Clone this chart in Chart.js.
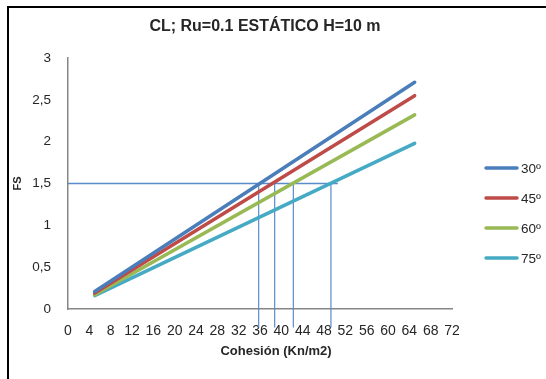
<!DOCTYPE html>
<html>
<head>
<meta charset="utf-8">
<script src="https://cdn.jsdelivr.net/npm/chart.js@4/dist/chart.umd.min.js"></script>
<style>
  html, body { margin: 0; padding: 0; background: #ffffff; }
  #wrap { position: relative; width: 546px; height: 379px; }
  canvas { display: block; }
</style>
</head>
<body>
<div id="wrap"><canvas id="fsChart" width="546" height="379"></canvas></div>
<script>
// Factor de seguridad vs cohesión, CL; Ru=0.1, estático, H=10 m
const cohesion = [5, 65];
const fs30 = [0.21, 2.71];
const fs45 = [0.19, 2.55];
const fs60 = [0.17, 2.32];
const fs75 = [0.16, 1.98];
const seriesLabels = ['30º', '45º', '60º', '75º'];
const seriesColors = ['#4A7EBB', '#BE4B48', '#98B954', '#46AAC5'];

// Cohesión requerida para FS = 1,5 en cada talud
const targetFS = 1.5;
const cohesionAtTarget = [35.75, 38.75, 42.25, 49.3];
const guideEndX = 50.6;
const guideBottomY = -0.22;

const xTickValues = [0, 4, 8, 12, 16, 20, 24, 28, 32, 36, 40, 44, 48, 52, 56, 60, 64, 68, 72];
const yTickValues = [0, 0.5, 1, 1.5, 2, 2.5, 3];

const titleText = 'CL; Ru=0.1 ESTÁTICO H=10 m';
const xTitle = 'Cohesión (Kn/m2)';
const yTitle = 'FS';

const FONT = '"Liberation Sans", Arial, sans-serif';
const TEXT = '#262626';
const AXIS = '#868686';
const GUIDE = '#5A8BCA';

const toPoints = (xs, ys) => xs.map((x, i) => ({ x, y: ys[i] }));
const seriesValues = [fs30, fs45, fs60, fs75];

const datasets = seriesValues.map((vals, i) => ({
  label: seriesLabels[i],
  data: toPoints(cohesion, vals),
  borderColor: seriesColors[i],
  backgroundColor: seriesColors[i],
  borderWidth: 3.5,
  borderCapStyle: 'round',
  pointRadius: 0,
  showLine: true,
  order: 1
}));

// líneas guía: horizontal en FS = 1,5 y verticales hasta el eje
datasets.push({
  label: 'guia-h',
  data: [{ x: 0, y: targetFS }, { x: guideEndX, y: targetFS }],
  borderColor: GUIDE,
  borderWidth: 1.5,
  pointRadius: 0,
  showLine: true,
  clip: false,
  order: 2
});
cohesionAtTarget.forEach((c, i) => {
  datasets.push({
    label: 'guia-v' + i,
    data: [{ x: c, y: targetFS }, { x: c, y: guideBottomY }],
    borderColor: GUIDE,
    borderWidth: 1.2,
    pointRadius: 0,
    showLine: true,
    clip: false,
    order: 2
  });
});

const decor = {
  id: 'decor',
  beforeDraw(chart) {
    const ctx = chart.ctx;
    ctx.save();
    ctx.fillStyle = '#ffffff';
    ctx.fillRect(0, 0, chart.width, chart.height);
    // marco
    ctx.strokeStyle = '#000000';
    ctx.lineWidth = 2;
    ctx.beginPath();
    ctx.moveTo(8, chart.height + 2);
    ctx.lineTo(8, 7);
    ctx.lineTo(chart.width + 2, 7);
    ctx.stroke();
    ctx.restore();
  },
  afterDraw(chart) {
    const ctx = chart.ctx;
    const area = chart.chartArea;
    ctx.save();
    ctx.fillStyle = TEXT;
    // título
    ctx.font = 'bold 16px ' + FONT;
    ctx.textAlign = 'center';
    ctx.textBaseline = 'middle';
    ctx.fillText(titleText, 265, 27);
    // título eje X
    ctx.font = 'bold 13px ' + FONT;
    ctx.fillText(xTitle, area.left + (area.right - area.left) / 2 + 16, 351);
    // título eje Y
    ctx.save();
    ctx.translate(18, (area.top + area.bottom) / 2);
    ctx.rotate(-Math.PI / 2);
    ctx.font = 'bold 11px ' + FONT;
    ctx.fillText(yTitle, 0, 0);
    ctx.restore();
    // leyenda
    ctx.font = '13.5px ' + FONT;
    ctx.textAlign = 'left';
    seriesLabels.forEach((lab, i) => {
      const y = 168 + i * 30;
      ctx.strokeStyle = seriesColors[i];
      ctx.lineWidth = 3.5;
      ctx.lineCap = 'round';
      ctx.beginPath();
      ctx.moveTo(486, y);
      ctx.lineTo(517, y);
      ctx.stroke();
      ctx.fillText(lab, 521, y + 1);
    });
    ctx.restore();
  }
};

new Chart(document.getElementById('fsChart'), {
  type: 'scatter',
  data: { datasets },
  options: {
    responsive: false,
    animation: false,
    layout: { padding: { top: 58, right: 94, bottom: 30, left: 0 } },
    plugins: {
      legend: { display: false },
      title: { display: false },
      tooltip: { enabled: false }
    },
    scales: {
      x: {
        type: 'linear',
        min: 0,
        max: 72,
        afterBuildTicks(scale) { scale.ticks = xTickValues.map(v => ({ value: v })); },
        afterFit(scale) { scale.height = 40; scale.paddingLeft = 0; scale.paddingRight = 0; },
        grid: { display: false, drawTicks: false },
        border: { display: true, color: AXIS, width: 1.5 },
        ticks: {
          autoSkip: false,
          maxRotation: 0,
          padding: 14,
          color: TEXT,
          font: { family: FONT, size: 14 },
          callback: v => String(v)
        }
      },
      y: {
        type: 'linear',
        min: 0,
        max: 3,
        afterBuildTicks(scale) { scale.ticks = yTickValues.map(v => ({ value: v })); },
        afterFit(scale) { scale.width = 68; scale.paddingTop = 0; scale.paddingBottom = 0; },
        grid: { display: false, drawTicks: false },
        border: { display: true, color: AXIS, width: 1.5 },
        ticks: {
          padding: 17,
          color: TEXT,
          font: { family: FONT, size: 13.5 },
          callback: v => String(v).replace('.', ',')
        }
      }
    }
  },
  plugins: [decor]
});
</script>
</body>
</html>
